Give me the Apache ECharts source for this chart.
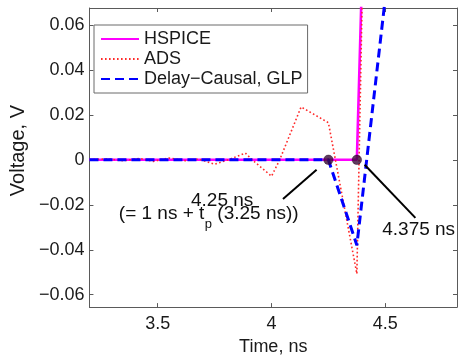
<!DOCTYPE html>
<html>
<head>
<meta charset="utf-8">
<script src="https://cdn.jsdelivr.net/npm/echarts@6/dist/echarts.min.js"></script>
<style>
  html, body { margin: 0; padding: 0; background: #fff; }
  #chart { width: 459px; height: 361px; }
</style>
</head>
<body>
<div id="chart"></div>
<script>
// Waveforms, time in ns, voltage in V
const hspiceT = [3.2, 4.375, 4.5, 4.625];
const hspiceV = [0, 0, 0.45, 0.9];

const adsT = [3.2, 3.28, 3.35, 3.42, 3.48, 3.55, 3.62, 3.68, 3.75, 3.81, 3.885, 3.915, 4.0, 4.036, 4.13, 4.25, 4.375, 4.5];
const adsV = [0, 0.0004, -0.0004, 0.0006, -0.0007, 0.0008, -0.0004, 0.0003, -0.002, 0, 0.003, 0, -0.0073, 0, 0.0235, 0.0165, -0.0507, 0.6];

const glpT = [3.2, 4.25, 4.375, 4.5, 4.625];
const glpV = [0, 0, -0.038, 0.072, 0.6];

// Marked instants (ns) on the zero line
const markT = [4.25, 4.375];

const xTicks = [3.5, 4, 4.5];
const yTicks = [-0.06, -0.04, -0.02, 0, 0.02, 0.04, 0.06];

const seriesNames = ['HSPICE', 'ADS', 'Delay\u2212Causal, GLP'];

const FONT = '"Liberation Sans", Arial, Helvetica, sans-serif';
const AXIS_COLOR = '#5a5a5a';

function pairs(t, v) { return t.map((x, i) => [x, v[i]]); }

function yFmt(v) {
  if (Math.abs(v) < 1e-12) return '0';
  return (v < 0 ? '\u2212' : '') + Math.abs(v).toFixed(2);
}

const X_MIN = 3.2, X_MAX = 4.815, Y_MIN = -0.0655, Y_MAX = 0.0675;

const chart = echarts.init(document.getElementById('chart'), null, { renderer: 'canvas' });

const baseX = {
  type: 'value', min: X_MIN, max: X_MAX,
  splitLine: { show: false },
  axisLine: { onZero: false, lineStyle: { color: AXIS_COLOR, width: 1 } },
  axisTick: { inside: true, length: 4, customValues: xTicks, lineStyle: { color: AXIS_COLOR } }
};
const baseY = {
  type: 'value', min: Y_MIN, max: Y_MAX,
  splitLine: { show: false },
  axisLine: { onZero: false, lineStyle: { color: AXIS_COLOR, width: 1 } },
  axisTick: { inside: true, length: 4, customValues: yTicks, lineStyle: { color: AXIS_COLOR } }
};

chart.setOption({
  animation: false,
  backgroundColor: '#ffffff',
  textStyle: { fontFamily: FONT },
  grid: { left: 83, right: 2, top: 8, bottom: 47, containLabel: false },
  xAxis: [
    Object.assign({}, baseX, {
      position: 'bottom',
      name: 'Time, ns', nameLocation: 'middle', nameGap: 34,
      nameTextStyle: { fontSize: 18, color: '#1a1a1a', fontFamily: FONT, verticalAlign: 'middle' },
      axisLabel: { customValues: xTicks, fontSize: 18, color: '#1a1a1a', fontFamily: FONT, margin: 8,
                   formatter: v => String(v) }
    }),
    Object.assign({}, baseX, { position: 'top', axisLabel: { show: false } })
  ],
  yAxis: [
    Object.assign({}, baseY, {
      position: 'left',
      name: 'Voltage, V', nameLocation: 'middle', nameGap: 57,
      nameTextStyle: { fontSize: 20, color: '#1a1a1a', fontFamily: FONT, padding: [0, 0, 0, 14] },
      axisLabel: { customValues: yTicks, fontSize: 18, color: '#1a1a1a', fontFamily: FONT, margin: 5,
                   formatter: yFmt }
    }),
    Object.assign({}, baseY, { position: 'right', axisLabel: { show: false } })
  ],
  legend: {
    data: seriesNames,
    orient: 'vertical',
    left: 94, top: 25,
    padding: [5, 5, 5, 6],
    itemGap: 2,
    itemWidth: 38, itemHeight: 20,
    backgroundColor: '#ffffff',
    borderColor: '#6a6a6a', borderWidth: 1, borderRadius: 0,
    itemStyle: { opacity: 0, borderWidth: 0 },
    textStyle: { fontSize: 18, color: '#1a1a1a', fontFamily: FONT, padding: [0, 0, 0, 0] }
  },
  series: [
    {
      name: seriesNames[0], type: 'line', data: pairs(hspiceT, hspiceV),
      symbol: 'none', z: 2, clip: true,
      lineStyle: { color: '#ff00ff', width: 2.6 },
      itemStyle: { color: '#ff00ff' }
    },
    {
      name: seriesNames[1], type: 'line', data: pairs(adsT, adsV),
      symbol: 'none', z: 3, clip: true,
      lineStyle: { color: '#ff2a2a', width: 1.6, type: [1.6, 2.4], cap: 'butt' },
      itemStyle: { color: '#ff2a2a' }
    },
    {
      name: seriesNames[2], type: 'line', data: pairs(glpT, glpV),
      symbol: 'none', z: 4, clip: true,
      lineStyle: { color: '#0000ff', width: 3, type: [9, 5], cap: 'butt' },
      itemStyle: { color: '#0000ff' }
    },
    {
      name: 'marks', type: 'scatter', data: markT.map(t => [t, 0]),
      symbol: 'circle', symbolSize: 9.5, z: 5,
      itemStyle: { color: '#3a0a36', borderColor: '#1a0018', borderWidth: 0.5 },
      markLine: {
        silent: true, symbol: ['none', 'arrow'], symbolSize: [0, 12],
        label: { show: false },
        lineStyle: { color: '#000000', width: 2, type: 'solid' },
        data: [
          [{ coord: [4.0504, -0.0174] }, { coord: [4.198, -0.0044] }],
          [{ coord: [4.6323, -0.0258] }, { coord: [4.409, -0.0022] }]
        ]
      }
    }
  ]
});

// Text annotations placed in data coordinates
const measureCtx = document.createElement('canvas').getContext('2d');
function textWidth(str, size) {
  measureCtx.font = size + 'px ' + FONT;
  return measureCtx.measureText(str).width;
}
function px(t, v) { return chart.convertToPixel({ xAxisIndex: 0, yAxisIndex: 0 }, [t, v]); }

const ANN = 19, SUB = 13;
const line1 = px(3.783, -0.0181);
const line2 = px(3.329, -0.0242);
const right = px(4.6466, -0.0312);
const partA = '(= 1 ns + t';
const partB = ' (3.25 ns))';
const wA = textWidth(partA, ANN);
const wSub = textWidth('p', SUB);

const txt = (x, y, s, size, align) => ({
  type: 'text', x: x, y: y, silent: true, z: 10,
  style: { text: s, font: size + 'px ' + FONT, fill: '#111', align: align, verticalAlign: 'middle' }
});

chart.setOption({
  graphic: [
    txt(line1[0], line1[1], '4.25 ns', ANN, 'center'),
    txt(line2[0], line2[1], partA, ANN, 'left'),
    txt(line2[0] + wA + 0.5, line2[1] + 10, 'p', SUB, 'left'),
    txt(line2[0] + wA + wSub + 0.5, line2[1], partB, ANN, 'left'),
    txt(right[0], right[1], '4.375 ns', ANN, 'center')
  ]
});
</script>
</body>
</html>
